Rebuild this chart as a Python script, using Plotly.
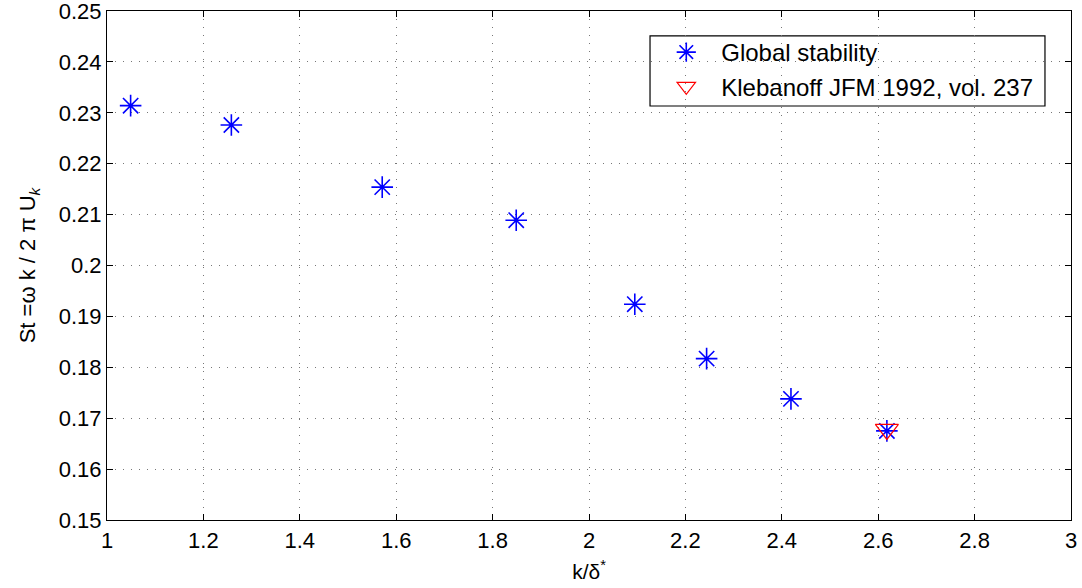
import plotly.graph_objects as go

# Data
k_delta = [1.049, 1.258, 1.571, 1.849, 2.095, 2.244, 2.419, 2.618]
st_global = [0.2314, 0.2276, 0.2154, 0.2089, 0.1924, 0.1817, 0.1738, 0.1675]
k_kleb = [2.618]
st_kleb = [0.1678]

x_ticks = [1, 1.2, 1.4, 1.6, 1.8, 2, 2.2, 2.4, 2.6, 2.8, 3]
x_labels = ["1", "1.2", "1.4", "1.6", "1.8", "2", "2.2", "2.4", "2.6", "2.8", "3"]
y_ticks = [0.15, 0.16, 0.17, 0.18, 0.19, 0.20, 0.21, 0.22, 0.23, 0.24, 0.25]
y_labels = ["0.15", "0.16", "0.17", "0.18", "0.19", "0.2", "0.21", "0.22", "0.23", "0.24", "0.25"]

FONT = "Liberation Sans, Arial, sans-serif"

fig = go.Figure()
fig.add_trace(go.Scatter(
    x=k_delta, y=st_global, mode="markers", name="Global stability",
    marker=dict(symbol="asterisk-open", size=18, color="#0000ff",
                line=dict(color="#0000ff", width=1.6)),
))
fig.add_trace(go.Scatter(
    x=k_kleb, y=st_kleb, mode="markers", name="Klebanoff JFM 1992, vol. 237",
    marker=dict(symbol="triangle-down-open", size=20, color="#ff0000",
                line=dict(color="#ff0000", width=1.2)),
))

axis_common = dict(
    showline=True, linecolor="black", linewidth=1.2, mirror="ticks",
    ticks="inside", ticklen=6, tickcolor="black", tickwidth=1,
    showgrid=True, gridcolor="#777777", griddash="1px,7px", gridwidth=1,
    zeroline=False, automargin=False, ticklabeloverflow="allow",
    tickfont=dict(family=FONT, size=22, color="black"),
)

fig.update_xaxes(range=[1, 3], tickvals=x_ticks, ticktext=x_labels,
                 title=dict(text="k/δ<sup>*</sup>", font=dict(family=FONT, size=21, color="black"),
                            standoff=12),
                 **axis_common)
fig.update_yaxes(range=[0.15, 0.25], tickvals=y_ticks, ticktext=y_labels,
                 title=dict(text="St =ω k / 2 π U<sub><i>k</i></sub>",
                            font=dict(family=FONT, size=22, color="black"), standoff=16),
                 **axis_common)

# legend frame (drawn as a shape so its size matches the reference)
fig.add_shape(type="rect", xref="paper", yref="paper",
              x0=0.5633, x1=0.973, y0=0.8134, y1=0.951,
              line=dict(color="black", width=1.2), fillcolor="white", layer="between")

fig.update_layout(
    width=1082, height=588,
    margin=dict(l=107, r=11, t=11, b=68),
    plot_bgcolor="white", paper_bgcolor="white",
    font=dict(family=FONT, color="black"),
    legend=dict(x=0.5646, y=0.9627, xanchor="left", yanchor="top",
                bgcolor="rgba(0,0,0,0)", borderwidth=0,
                font=dict(family=FONT, size=24, color="black"),
                itemwidth=60, tracegroupgap=0),
    showlegend=True,
)

fig.write_html("out.html")
